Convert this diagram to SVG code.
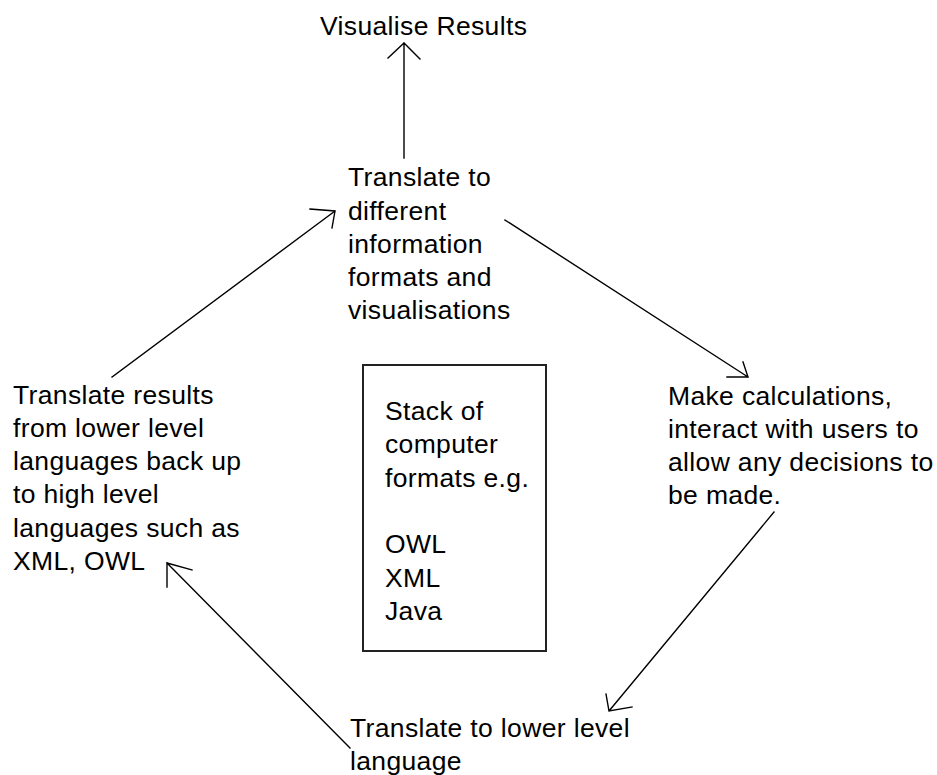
<svg xmlns="http://www.w3.org/2000/svg" width="937" height="775" viewBox="0 0 937 775">
  <style>
    .lbl { font-family: "Liberation Sans", Arial, sans-serif; font-size: 26.5px; letter-spacing: 0.35px; fill: #000; }
    .conn { stroke: #000; stroke-width: 1.4; fill: none; stroke-linecap: square; }
    .box { stroke: #222; stroke-width: 2; fill: #fff; }
  </style>
  <rect width="937" height="775" fill="#fff"/>

  <!-- connectors: shaft plus two open arrowhead strokes each -->
  <g id="connectors" class="conn">
    <!-- up to Visualise Results -->
    <path d="M404 158 L404 43 M388 58 L404 43 L420 59"/>
    <!-- left block up to translate-to-formats -->
    <path d="M112 377 L335 211 M310 209 L335 211 L332 228"/>
    <!-- translate-to-formats down to calculations -->
    <path d="M505 220 L748 377 M727 377 L748 377 L743 362"/>
    <!-- calculations down to lower level -->
    <path d="M774 512 L609 711 M606 694 L609 711 L632 707"/>
    <!-- lower level back up to results block -->
    <path d="M350 748 L167 563 M167 587 L167 563 L192 570"/>
  </g>

  <g id="visualise">
    <text class="lbl" x="320" y="35">Visualise Results</text>
  </g>

  <g id="translate-formats">
    <text class="lbl" x="348" y="186">Translate to</text>
    <text class="lbl" x="348" y="219.5">different</text>
    <text class="lbl" x="348" y="253">information</text>
    <text class="lbl" x="348" y="286">formats and</text>
    <text class="lbl" x="348" y="319">visualisations</text>
  </g>

  <g id="calculations">
    <text class="lbl" x="668" y="405">Make calculations,</text>
    <text class="lbl" x="668" y="438">interact with users to</text>
    <text class="lbl" x="668" y="471">allow any decisions to</text>
    <text class="lbl" x="668" y="504">be made.</text>
  </g>

  <g id="lower-level">
    <text class="lbl" x="350" y="737">Translate to lower level</text>
    <text class="lbl" x="350" y="770">language</text>
  </g>

  <g id="translate-results">
    <text class="lbl" x="13" y="404">Translate results</text>
    <text class="lbl" x="13" y="437">from lower level</text>
    <text class="lbl" x="13" y="470">languages back up</text>
    <text class="lbl" x="13" y="503">to high level</text>
    <text class="lbl" x="13" y="537">languages such as</text>
    <text class="lbl" x="13" y="570">XML, OWL</text>
  </g>

  <g id="format-stack">
    <rect class="box" x="363" y="365" width="183" height="286"/>
    <text class="lbl" x="385" y="420">Stack of</text>
    <text class="lbl" x="385" y="453">computer</text>
    <text class="lbl" x="385" y="487">formats e.g.</text>
    <text class="lbl" x="385" y="553">OWL</text>
    <text class="lbl" x="385" y="587">XML</text>
    <text class="lbl" x="385" y="620">Java</text>
  </g>
</svg>
